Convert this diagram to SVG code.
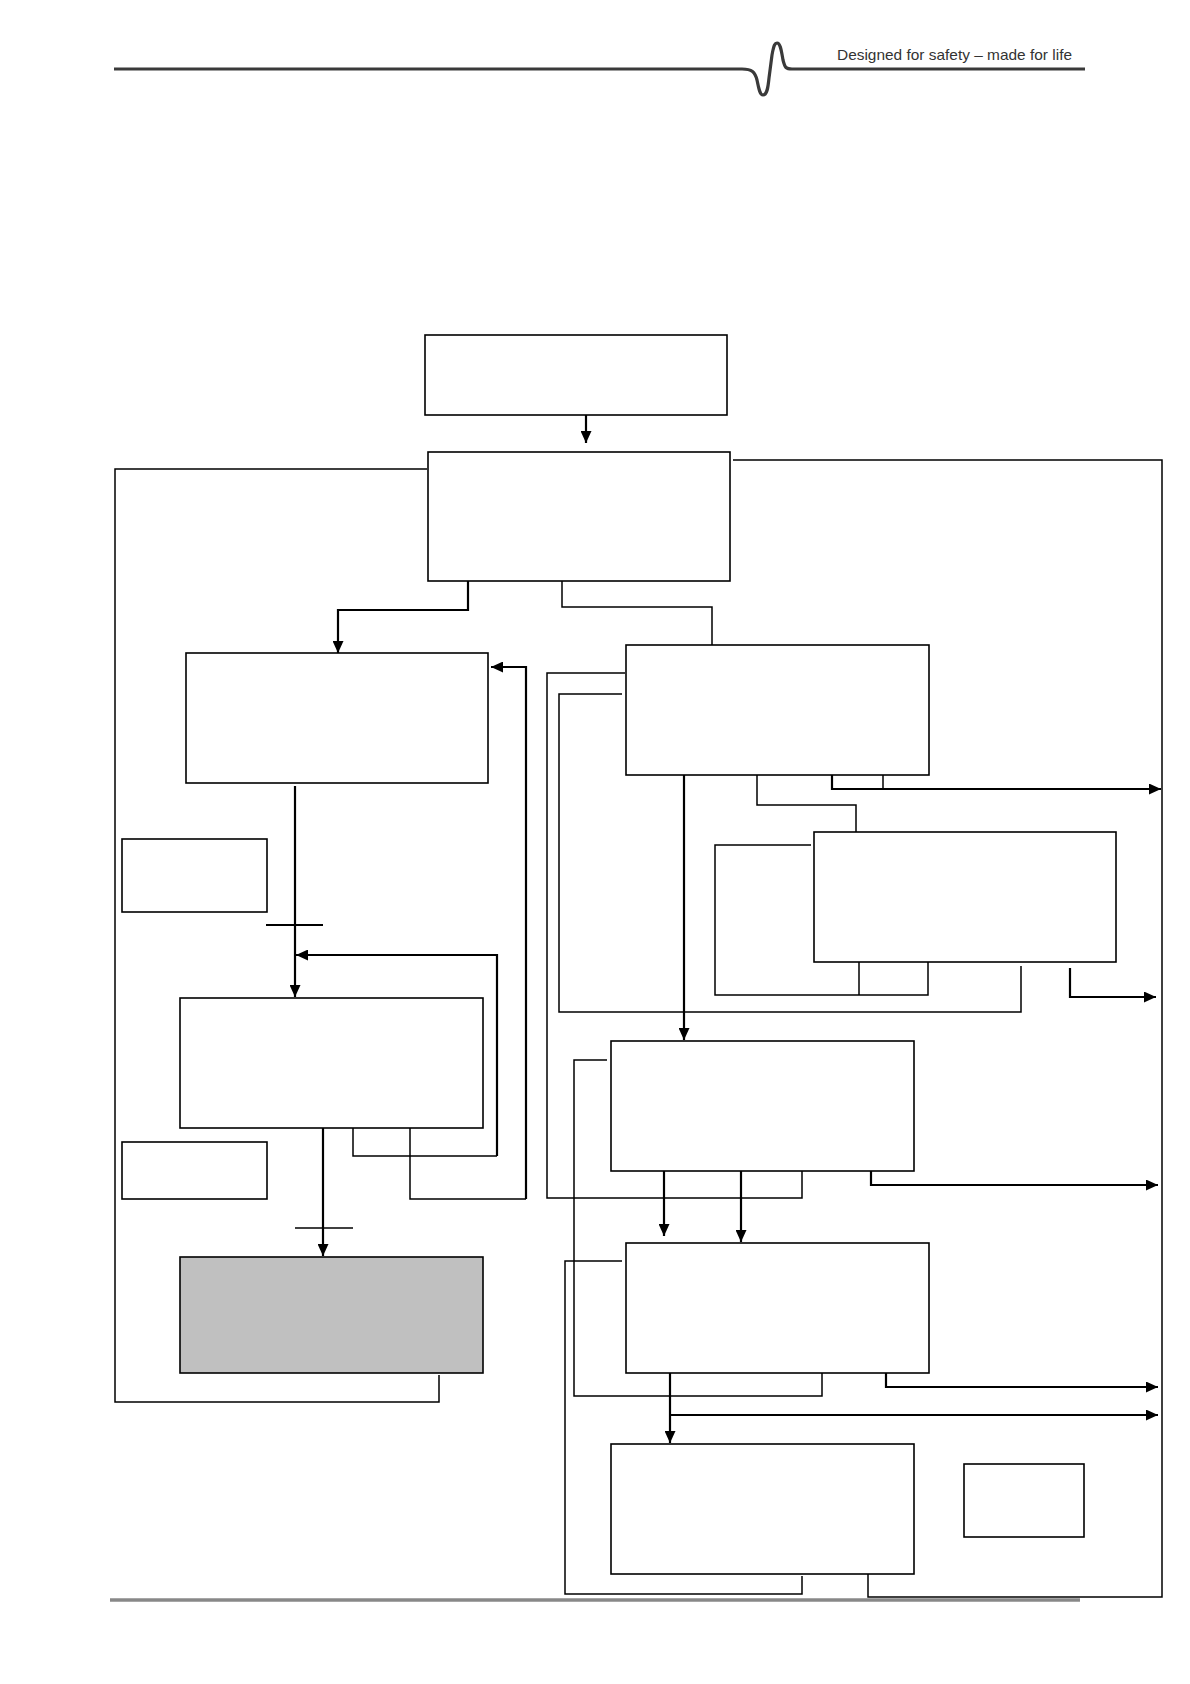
<svg xmlns="http://www.w3.org/2000/svg" width="1190" height="1684" viewBox="0 0 1190 1684">
<style>
.box{fill:#fff;stroke:#000;stroke-width:1.6}
.grey{fill:#c0c0c0}
.ln{fill:none;stroke:#000;stroke-width:1.5}
.ar{fill:none;stroke:#000;stroke-width:2.2;marker-end:url(#ah)}
.tk{fill:none;stroke:#000;stroke-width:2}
.hdr{fill:none;stroke:#3a3a3a;stroke-width:3.2;stroke-linejoin:round}
.ftr{fill:none;stroke:#888;stroke-width:3.5}
.tag{font-family:"Liberation Sans",Arial,sans-serif;font-size:15px;fill:#333}
</style>
<defs>
<marker id="ah" markerUnits="userSpaceOnUse" markerWidth="13" markerHeight="11" refX="12" refY="5.5" orient="auto">
<path d="M0,0 L12,5.5 L0,11 z" fill="#000"/>
</marker>
</defs>
<g id="header">
<path class="hdr" d="M114,69 H742 C752,69 755,72 757,80 C759,90 760,95 763,95 C767,95 768,88 769,78 L772,55 C774,44 775,43 777,43 C780,43 781,48 783,60 C785,68 786,69 792,69 H1085"/>
<text class="tag" x="837" y="59.5" textLength="235" lengthAdjust="spacingAndGlyphs">Designed for safety – made for life</text>
</g>
<g id="footer"><path class="ftr" d="M110,1600 H1080"/></g>
<g id="connectors">
<path class="ar" d="M586,415 V443"/>
<path class="ln" d="M427,469 H115 V1402 H439 V1375"/>
<path class="ln" d="M733,460 H1162 V1597 H868 V1573"/>
<path class="ar" d="M468,581 V610 H338 V653"/>
<path class="ln" d="M562,581 V607 H712 V645"/>
<path class="ar" d="M295,786 V997"/>
<path class="tk" d="M266,925 H323"/>
<path class="ln" d="M353,1128 V1156 H497"/>
<path class="ar" d="M497,1156 V955 H296"/>
<path class="ln" d="M410,1128 V1199 H526"/>
<path class="ar" d="M526,1199 V667 H491"/>
<path class="ar" d="M323,1128 V1256"/>
<path class="ln" d="M295,1228 H353"/>
<path class="ln" d="M625,673 H547 V1198 H802 V1170"/>
<path class="ln" d="M622,694 H559 V1012 H1021 V966"/>
<path class="ar" d="M684,775 V1040"/>
<path class="ln" d="M757,775 V805 H856 V832"/>
<path class="ln" d="M883,775 V789"/>
<path class="ar" d="M832,775 V789 H1161"/>
<path class="ln" d="M811,845 H715 V995 H928 V962"/>
<path class="ln" d="M859,962 V995"/>
<path class="ar" d="M1070,968 V997 H1156"/>
<path class="ln" d="M607,1060 H574 V1396 H822 V1373"/>
<path class="ar" d="M664,1171 V1236"/>
<path class="ar" d="M741,1171 V1242"/>
<path class="ar" d="M871,1171 V1185 H1158"/>
<path class="ln" d="M622,1261 H565 V1594 H802 V1576"/>
<path class="ar" d="M670,1373 V1443"/>
<path class="ar" d="M670,1415 H1158"/>
<path class="ar" d="M886,1373 V1387 H1158"/>
</g>
<g id="n1"><rect class="box" x="425" y="335" width="302" height="80"/></g>
<g id="n2"><rect class="box" x="428" y="452" width="302" height="129"/></g>
<g id="n3"><rect class="box" x="186" y="653" width="302" height="130"/></g>
<g id="n4"><rect class="box" x="180" y="998" width="303" height="130"/></g>
<g id="n5"><rect class="box grey" x="180" y="1257" width="303" height="116"/></g>
<g id="nA"><rect class="box" x="122" y="839" width="145" height="73"/></g>
<g id="nB"><rect class="box" x="122" y="1142" width="145" height="57"/></g>
<g id="nC"><rect class="box" x="626" y="645" width="303" height="130"/></g>
<g id="nD"><rect class="box" x="814" y="832" width="302" height="130"/></g>
<g id="nE"><rect class="box" x="611" y="1041" width="303" height="130"/></g>
<g id="nF"><rect class="box" x="626" y="1243" width="303" height="130"/></g>
<g id="nG"><rect class="box" x="611" y="1444" width="303" height="130"/></g>
<g id="nH"><rect class="box" x="964" y="1464" width="120" height="73"/></g>
</svg>
